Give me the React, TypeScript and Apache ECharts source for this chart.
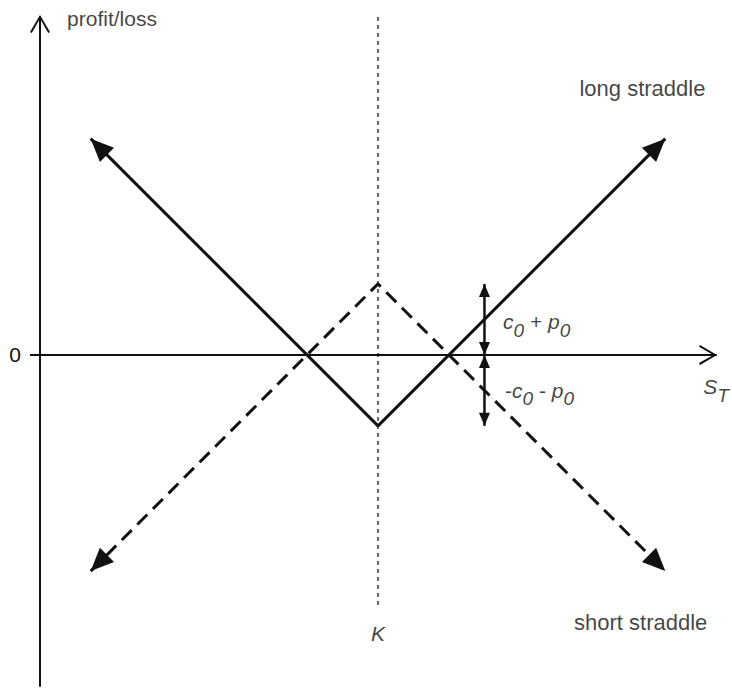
import React, { useEffect, useRef } from "react";
import * as echarts from "echarts";

// ---- data (payoff diagram, arbitrary units) ----
const stRange = [0, 200]; // S_T axis
const plRange = [-98, 100]; // profit/loss axis
const strike = 100; // K
const premium = 21; // c0 + p0
const longStraddle: number[][] = [
  [15, 64],
  [100, -21],
  [185, 64],
];
const shortStraddle: number[][] = [
  [15, -64],
  [100, 21],
  [185, -64],
];
const premiumX = 131.5;
const upperPremium: number[][] = [
  [premiumX, premium],
  [premiumX, 0],
];
const lowerPremium: number[][] = [
  [premiumX, 0],
  [premiumX, -premium],
];
const strikeLine: number[][] = [
  [strike, 100],
  [strike, -74],
];
const yTickValues = [0];
const yTickLabels = ["0"];
const textAnchors = {
  profitLoss: [8, 99.7],
  longLabel: [159.6, 78.7],
  shortLabel: [158.0, -79.3],
  plusPremium: [137, 9.8],
  minusPremium: [137.6, -10.4],
  st: [196.2, -9.5],
  k: [100, -82.6],
};

const FONT = "'Liberation Sans', Arial, Helvetica, sans-serif";
const INK = "#111111";

// arrowhead placed with its tip at the data point; rot = degrees CCW from "up"
function tip(point: number[], rot: number, size: number[]) {
  const half = size[1] / 2;
  const r = (rot * Math.PI) / 180;
  return {
    value: point,
    symbol: "triangle",
    symbolSize: size,
    symbolRotate: rot,
    symbolOffset: [Math.sin(r) * half, Math.cos(r) * half],
  };
}
function plain(point: number[]) {
  return { value: point, symbol: "none" };
}

const bigHead = [20, 23];
const smallHead = [11, 13];

const chevron = "path://M0,17 L10,0 L20,17 L18.2,18 L10,3.6 L1.8,18 Z";

const rich = {
  i: { fontStyle: "italic", fontSize: 21, fontFamily: FONT, color: INK },
  n: { fontSize: 21, fontFamily: FONT, color: INK },
  b: { fontSize: 22, fontFamily: FONT, color: INK },
  s: {
    fontStyle: "italic",
    fontSize: 19,
    fontFamily: FONT,
    color: INK,
    padding: [17, 0, 0, 0],
  },
};

export default function App() {
  const ref = useRef<HTMLDivElement>(null);
  useEffect(() => {
    if (!ref.current) return;
    const chart = echarts.init(ref.current, null, { renderer: "svg" });
    const textItem = (pos: number[], formatter: string, align = "left") => ({
      value: pos,
      label: {
        show: true,
        position: align === "left" ? "right" : "inside",
        distance: 0,
        formatter,
        rich,
        fontSize: 21,
        fontFamily: FONT,
        color: INK,
        align: align,
        verticalAlign: "middle",
      },
    });
    chart.setOption({
      animation: false,
      grid: { left: 40, right: 16, top: 17, bottom: 4 },
      xAxis: {
        type: "value",
        min: stRange[0],
        max: stRange[1],
        axisLine: {
          show: true,
          onZero: true,
          symbol: ["none", chevron],
          symbolSize: [20, 18],
          symbolOffset: [0, -8],
          lineStyle: { color: INK, width: 2 },
        },
        axisTick: { show: false },
        axisLabel: { show: false },
        splitLine: { show: false },
      },
      yAxis: {
        type: "value",
        min: plRange[0],
        max: plRange[1],
        axisLine: {
          show: true,
          symbol: ["none", chevron],
          symbolSize: [20, 18],
          symbolOffset: [0, -7],
          lineStyle: { color: INK, width: 2 },
        },
        axisTick: {
          show: true,
          customValues: yTickValues,
          length: 10,
          lineStyle: { color: INK, width: 2 },
        },
        axisLabel: {
          show: true,
          customValues: yTickValues,
          formatter: (v: number) => yTickLabels[yTickValues.indexOf(v)] ?? "",
          margin: 19,
          fontSize: 21,
          fontFamily: FONT,
          color: INK,
        },
        splitLine: { show: false },
      },
      series: [
        {
          name: "strike",
          type: "line",
          data: strikeLine,
          symbol: "none",
          lineStyle: { color: "#000", width: 1.2, type: [4, 4] },
          silent: true,
        },
        {
          name: "long straddle",
          type: "line",
          symbol: "none",
          data: [
            tip(longStraddle[0], 45, bigHead),
            plain(longStraddle[1]),
            tip(longStraddle[2], -45, bigHead),
          ],
          itemStyle: { color: INK },
          lineStyle: { color: INK, width: 3 },
          silent: true,
        },
        {
          name: "short straddle",
          type: "line",
          symbol: "none",
          data: [
            tip(shortStraddle[0], 135, bigHead),
            plain(shortStraddle[1]),
            tip(shortStraddle[2], -135, bigHead),
          ],
          itemStyle: { color: INK },
          lineStyle: { color: INK, width: 3, type: [14, 8] },
          silent: true,
        },
        {
          name: "premium up",
          type: "line",
          symbol: "none",
          data: [tip(upperPremium[0], 0, smallHead), tip(upperPremium[1], 180, smallHead)],
          itemStyle: { color: INK },
          lineStyle: { color: INK, width: 2.5 },
          silent: true,
        },
        {
          name: "premium down",
          type: "line",
          symbol: "none",
          data: [tip(lowerPremium[0], 0, smallHead), tip(lowerPremium[1], 180, smallHead)],
          itemStyle: { color: INK },
          lineStyle: { color: INK, width: 2.5 },
          silent: true,
        },
        {
          name: "texts",
          type: "scatter",
          symbolSize: 0,
          silent: true,
          data: [
            textItem(textAnchors.profitLoss, "{n|profit/loss}"),
            textItem(textAnchors.longLabel, "{b|long straddle}"),
            textItem(textAnchors.shortLabel, "{b|short straddle}"),
            textItem(textAnchors.plusPremium, "{i|c}{s|0}{n| + }{i|p}{s|0}"),
            textItem(textAnchors.minusPremium, "{n|-}{i|c}{s|0}{n| - }{i|p}{s|0}"),
            textItem(textAnchors.st, "{i|S}{s|T}"),
            textItem(textAnchors.k, "{i|K}", "center"),
          ],
        },
      ],
    });
    return () => chart.dispose();
  }, []);
  return (
    <div
      ref={ref}
      style={{ position: "fixed", left: 0, top: 0, width: 732, height: 690, background: "#fff" }}
    />
  );
}
